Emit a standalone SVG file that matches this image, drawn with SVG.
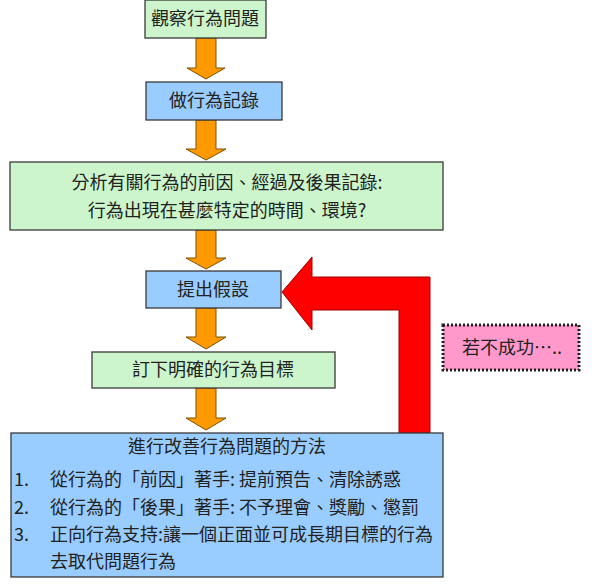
<svg xmlns="http://www.w3.org/2000/svg" width="595" height="587" viewBox="0 0 595 587">
<style>
text{font-family:"Noto Sans CJK TC","Noto Sans CJK SC",sans-serif;font-size:18px;fill:#222}
.g{fill:#ccf5cc;stroke:#3a3a3a;stroke-width:1.3}
.b{fill:#99ccff;stroke:#3a3a3a;stroke-width:1.3}
.o{fill:#ff9900;stroke:#7a5000;stroke-width:1}
.c{text-anchor:middle}
</style>
<rect width="595" height="587" fill="#fff"/>
<g id="connectors">
<path class="o" d="M196 38H216V68H225L206 79L187 68H196Z"/>
<path class="o" d="M196 120H216V149H226L206 160L186 149H196Z"/>
<path class="o" d="M196 230H216V258H226L206 269L186 258H196Z"/>
<path class="o" d="M196 308H216V337H226L206 349L186 337H196Z"/>
<path class="o" d="M196 388H216V418H226L206 430L186 418H196Z"/>
<path id="loop" d="M282 292L312 257V277H430V433H399V310H312V330Z" fill="#ff0000" stroke="#a00000" stroke-width="1"/>
</g>
<g id="n1"><rect class="g" x="145" y="0" width="121" height="38"/><text class="c" x="205" y="25">觀察行為問題</text></g>
<g id="n2"><rect class="b" x="146" y="82" width="136" height="38"/><text class="c" x="214" y="107">做行為記錄</text></g>
<g id="n3"><rect class="g" x="10" y="162" width="433" height="68"/><text class="c" x="227" y="189">分析有關行為的前因、經過及後果記錄:</text><text class="c" x="227" y="217">行為出現在甚麼特定的時間、環境?</text></g>
<g id="n4"><rect class="b" x="146" y="271" width="135" height="37"/><text class="c" x="213" y="296">提出假設</text></g>
<g id="n5"><rect class="g" x="92" y="352" width="243" height="36"/><text class="c" x="213" y="376">訂下明確的行為目標</text></g>
<g id="n6"><rect class="b" x="11" y="433" width="432" height="144"/>
<text class="c" x="227" y="453">進行改善行為問題的方法</text>
<text x="14" y="486">1.</text><text x="50" y="486">從行為的「前因」著手: 提前預告、清除誘惑</text>
<text x="14" y="514">2.</text><text x="50" y="514">從行為的「後果」著手: 不予理會、獎勵、懲罰</text>
<text x="14" y="541">3.</text><text x="50" y="541">正向行為支持:讓一個正面並可成長期目標的行為</text>
<text x="50" y="568">去取代問題行為</text></g>
<g id="n7"><rect x="443" y="325" width="136" height="45" fill="#ff99cc" stroke="#222" stroke-width="3" stroke-dasharray="2 2"/><text x="462" y="354">若不成功…..</text></g>
</svg>
